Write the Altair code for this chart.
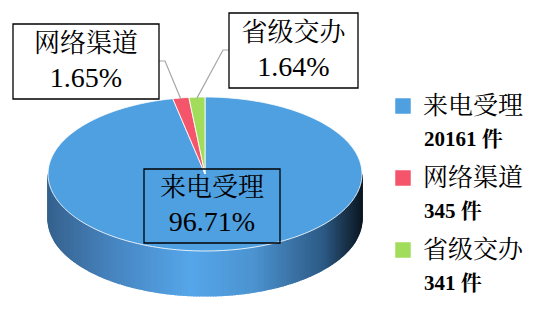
import math
import altair as alt
import pandas as pd

# ---- data ----
categories = ["来电受理", "网络渠道", "省级交办"]
counts = [20161, 345, 341]
percent_labels = ["96.71%", "1.65%", "1.64%"]
count_labels = ["20161 件", "345 件", "341 件"]

# ---- styling / layout ----
slice_colors = ["#4FA0E1", "#F4556A", "#A2DC5B"]
side_domain = [-1.0, -0.6, -0.1, 0.3, 0.75, 1.0]
side_range = ["#36628E", "#4684BF", "#55A6E9", "#4C94D1", "#2D5A86", "#0B1722"]

W, H = 543, 314
CX, CY = 205, 174          # centre of the top face
RX, RY = 157, 77           # ellipse radii of the top face
DEPTH = 45                 # thickness of the disc

CJK = "Liberation Serif, Noto Serif CJK SC, Noto Sans CJK SC"
LATIN = "Liberation Serif"

CALLOUTS = {
    "网络渠道": {"box": (13, 24, 159, 99), "elbow": [(159, 61), (165, 61)], "fill": True},
    "省级交办": {"box": (229, 13, 358, 88), "elbow": [(229, 50), (223, 50)], "fill": True},
    "来电受理": {"box": (144, 169, 280, 243), "elbow": None, "fill": False},
}
LEGEND_X, LEGEND_Y0, LEGEND_STEP = 403, 106, 72

PROJ = dict(type="identity", scale=1, translate=[0, 0])


def pt(theta_deg, dy=0.0):
    t = math.radians(theta_deg)
    return [CX + RX * math.sin(t), CY - RY * math.cos(t) + dy]


def arc(a0, a1, step=1.0):
    n = max(2, int(math.ceil((a1 - a0) / step)) + 1)
    return [pt(a0 + (a1 - a0) * i / (n - 1)) for i in range(n)]


def feature(ring, **props):
    return {"type": "Feature", "properties": props,
            "geometry": {"type": "Polygon", "coordinates": [ring]}}


# slice angles, clockwise from 12 o'clock
total = sum(counts)
bounds, acc = [], 0
for c in counts:
    a0 = acc / total * 360
    acc += c
    bounds.append((a0, acc / total * 360))

# top faces
tops = [feature([[CX, CY]] + arc(a0, a1) + [[CX, CY]], name=n)
        for n, (a0, a1) in zip(categories, bounds)]

# front wall, cut into thin strips for the shading
sides = []
for n, (a0, a1) in zip(categories, bounds):
    lo, hi = max(a0, 90.0), min(a1, 270.0)
    if hi <= lo:
        continue
    k = int(math.ceil((hi - lo) / 1.0))
    for i in range(k):
        s0 = lo + (hi - lo) * i / k
        s1 = lo + (hi - lo) * (i + 1) / k
        ring = [pt(s0), pt(s1), pt(s1, DEPTH), pt(s0, DEPTH), pt(s0)]
        sides.append(feature(ring, name=n,
                             shade=math.sin(math.radians((s0 + s1) / 2))))

# callout boxes, leader lines and texts
boxes_filled, boxes_open, leaders, label_rows = [], [], [], []
for n, pct, (a0, a1) in zip(categories, percent_labels, bounds):
    c = CALLOUTS[n]
    x0, y0, x1, y1 = c["box"]
    ring = [[x0, y0], [x1, y0], [x1, y1], [x0, y1], [x0, y0]]
    (boxes_filled if c["fill"] else boxes_open).append(feature(ring, name=n))
    mx, my = (x0 + x1) / 2, (y0 + y1) / 2
    label_rows.append({"lon": mx, "lat": my - 18, "text": n, "kind": "name"})
    label_rows.append({"lon": mx, "lat": my + 17, "text": pct, "kind": "pct"})
    if c["elbow"]:
        end = pt((a0 + a1) / 2, 1)
        for j, (lx, ly) in enumerate(c["elbow"] + [tuple(end)]):
            leaders.append({"name": n, "seq": j, "lon": lx, "lat": ly})

labels = pd.DataFrame(label_rows)
leader_df = pd.DataFrame(leaders)

legend_df = pd.DataFrame({
    "name": categories,
    "count": count_labels,
    "lon": [LEGEND_X] * len(categories),
    "lat": [LEGEND_Y0 + i * LEGEND_STEP for i in range(len(categories))],
})
legend_df["tx"] = LEGEND_X + 20
legend_df["cx"] = LEGEND_X + 21
legend_df["clat"] = legend_df["lat"] + 34

cat_scale = alt.Scale(domain=categories, range=slice_colors)
side_scale = alt.Scale(domain=side_domain, range=side_range)

side_layer = alt.Chart(alt.Data(values=sides)).mark_geoshape(strokeWidth=1.2).encode(
    fill=alt.Fill("properties.shade:Q", scale=side_scale, legend=None),
    stroke=alt.Stroke("properties.shade:Q", scale=side_scale, legend=None),
).project(**PROJ)

top_layer = alt.Chart(alt.Data(values=tops)).mark_geoshape(
    stroke="#FFFFFF", strokeWidth=1, strokeOpacity=0.85
).encode(
    fill=alt.Fill("properties.name:N", scale=cat_scale, legend=None)
).project(**PROJ)

open_box = alt.Chart(alt.Data(values=boxes_open)).mark_geoshape(
    fill="transparent", stroke="#000000", strokeWidth=1.3
).project(**PROJ)

leader_layer = alt.Chart(leader_df).mark_line(color="#A6A6A6", strokeWidth=1.2).encode(
    longitude="lon:Q", latitude="lat:Q", detail="name:N", order="seq:Q"
).project(**PROJ)

filled_box = alt.Chart(alt.Data(values=boxes_filled)).mark_geoshape(
    fill="#FFFFFF", stroke="#000000", strokeWidth=1.3
).project(**PROJ)

name_text = alt.Chart(labels).transform_filter(alt.datum.kind == "name").mark_text(
    font=CJK, fontSize=26, align="center", baseline="middle", color="#000000"
).encode(longitude="lon:Q", latitude="lat:Q", text="text:N").project(**PROJ)

pct_text = alt.Chart(labels).transform_filter(alt.datum.kind == "pct").mark_text(
    font=LATIN, fontSize=28, align="center", baseline="middle", color="#000000"
).encode(longitude="lon:Q", latitude="lat:Q", text="text:N").project(**PROJ)

legend_sq = alt.Chart(legend_df).mark_square(size=240, opacity=1).encode(
    longitude="lon:Q", latitude="lat:Q",
    fill=alt.Fill("name:N", scale=cat_scale, legend=None),
).project(**PROJ)

legend_name = alt.Chart(legend_df).mark_text(
    font=CJK, fontSize=25, align="left", baseline="middle", color="#000000"
).encode(longitude="tx:Q", latitude="lat:Q", text="name:N").project(**PROJ)

legend_count = alt.Chart(legend_df).mark_text(
    font=CJK, fontSize=21, fontWeight="bold", align="left", baseline="middle", color="#000000"
).encode(longitude="cx:Q", latitude="clat:Q", text="count:N").project(**PROJ)

chart = alt.layer(
    side_layer, top_layer, open_box, leader_layer, filled_box,
    name_text, pct_text, legend_sq, legend_name, legend_count,
).resolve_scale(fill="independent", stroke="independent").properties(
    width=W, height=H, autosize=alt.AutoSizeParams(type="none"), padding=0,
    background="#FFFFFF",
).configure_view(stroke=None)

chart.save("out.html", embed_options={"renderer": "svg", "actions": False})
